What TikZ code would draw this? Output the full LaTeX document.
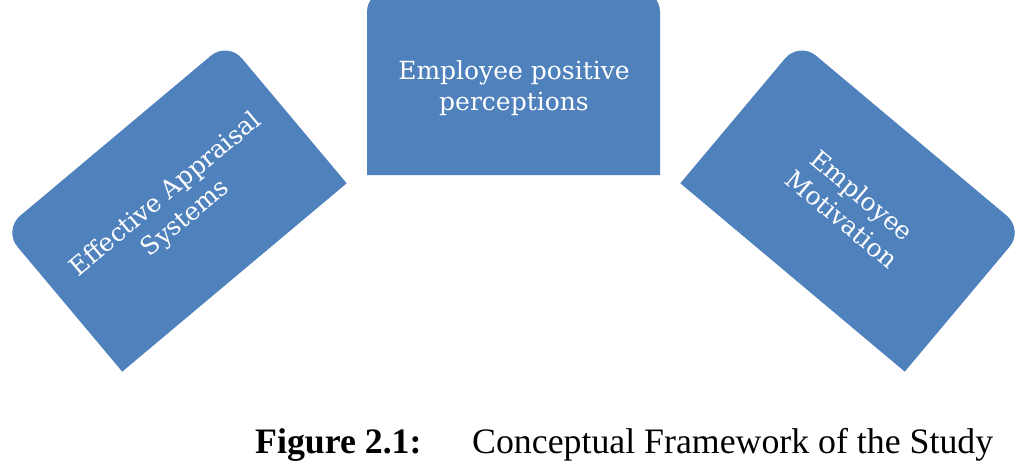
\documentclass[tikz,border=0pt]{standalone}
\usepackage{fontspec}
\setmainfont{Liberation Serif}
\newfontfamily\boxfont{DejaVu Serif}
\definecolor{boxblue}{RGB}{79,129,189}
\begin{document}
\begin{tikzpicture}[x=1pt,y=1pt,
  boxshape/.style={fill=boxblue},
  boxtext/.style={text=white,align=center,font=\boxfont\fontsize{25}{31}\selectfont,inner sep=0pt},
  captext/.style={anchor=base west,inner sep=0pt,font=\fontsize{35.8}{42}\selectfont}]
\useasboundingbox (0,0) rectangle (1029,467);
\clip (0,0) rectangle (1029,467);
% left shape
\begin{scope}[shift={(175,260.4)},rotate=40]
\fill[boxshape] (-146.5,-92.5) -- (-146.5,70.5) arc[start angle=180,end angle=90,radius=22] -- (124.5,92.5) arc[start angle=90,end angle=0,radius=22] -- (146.5,-92.5) -- cycle;
\end{scope}
% middle shape
\begin{scope}[shift={(513.5,384.5)}]
\fill[boxshape] (-146.5,-92.5) -- (-146.5,70.5) arc[start angle=180,end angle=90,radius=22] -- (124.5,92.5) arc[start angle=90,end angle=0,radius=22] -- (146.5,-92.5) -- cycle;
\end{scope}
% right shape
\begin{scope}[shift={(852,260.4)},rotate=-40]
\fill[boxshape] (-146.5,-92.5) -- (-146.5,70.5) arc[start angle=180,end angle=90,radius=22] -- (124.5,92.5) arc[start angle=90,end angle=0,radius=22] -- (146.5,-92.5) -- cycle;
\end{scope}
\node[boxtext,rotate=40] (eas) at (176,260) {Effective Appraisal\\Systems};
\node[boxtext] (epp) at (514,379) {Employee positive\\perceptions};
\node[boxtext,rotate=-40] (em) at (852,260) {Employee\\Motivation};
\node[captext] (figlab) at (255,14) {\textbf{Figure 2.1:}};
\node[captext] (figcap) at (472,14) {Conceptual Framework of the Study};
\end{tikzpicture}
\end{document}
